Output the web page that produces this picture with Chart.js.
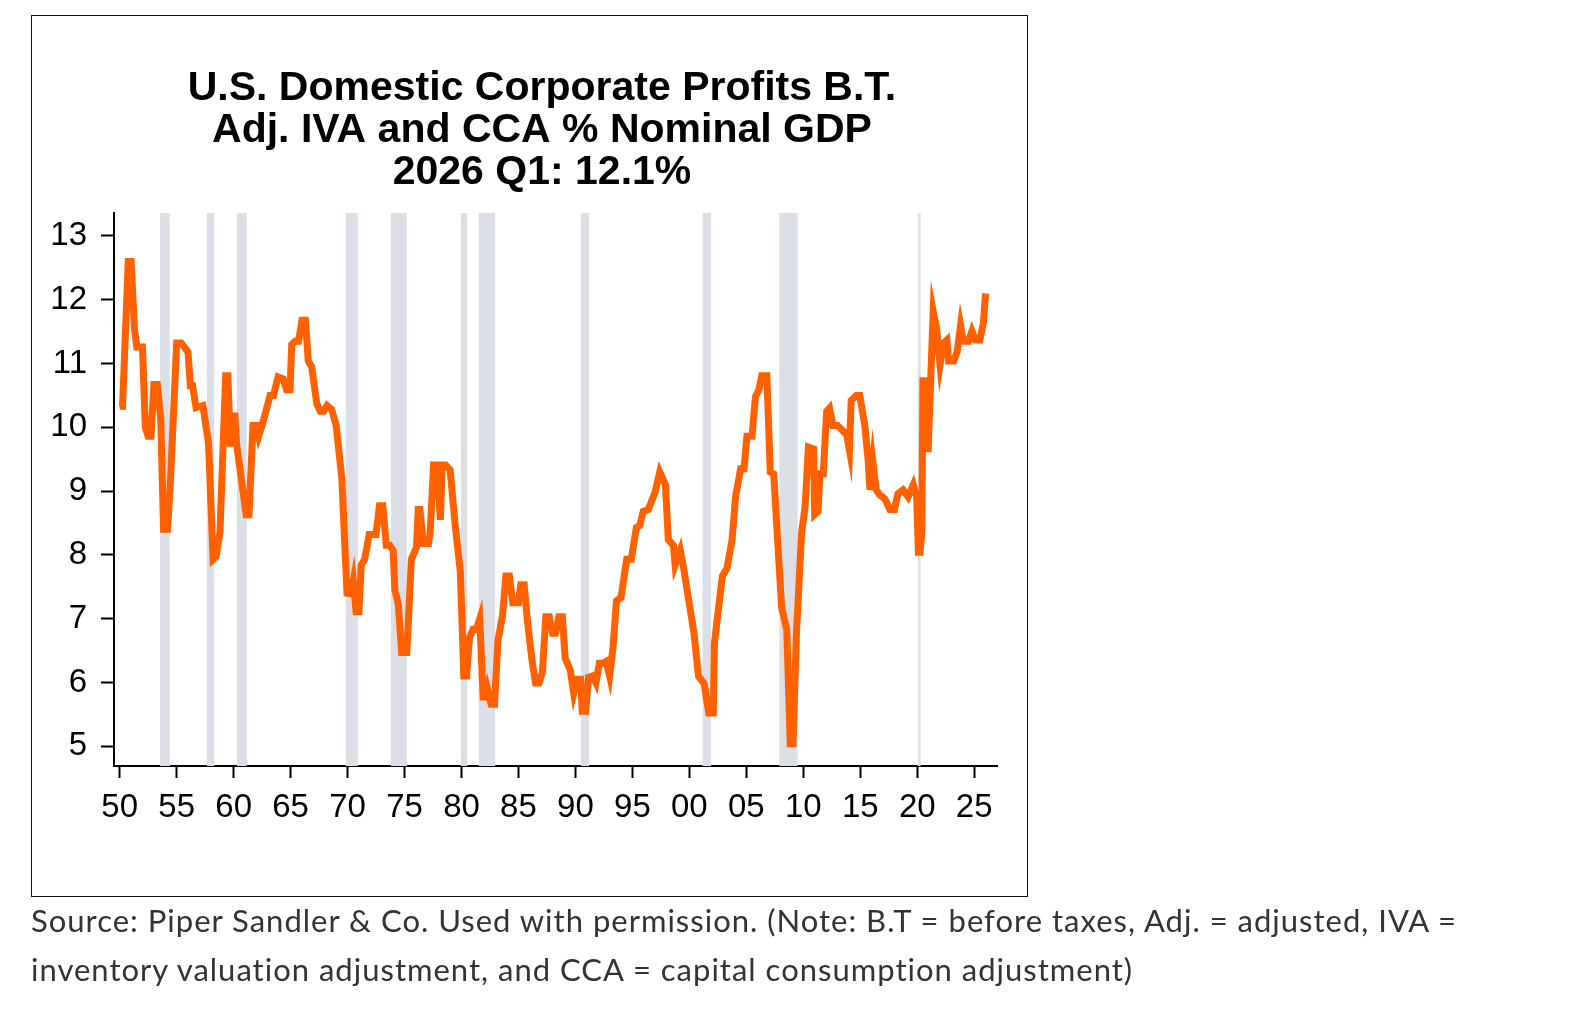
<!DOCTYPE html>
<html>
<head>
<meta charset="utf-8">
<script src="https://cdn.jsdelivr.net/npm/chart.js@4.4.1/dist/chart.umd.min.js"></script>
<style>
    body { margin: 0; background: #fff; width: 1574px; height: 1030px; overflow: hidden; position: relative; }
    #frame { position: absolute; left: 31px; top: 15px; width: 995px; height: 880px; border: 1px solid #111; }
    #wrap { position: absolute; left: 0; top: 0; width: 1574px; height: 1030px; }
    .note { position: absolute; left: 31px; font-family: Lato, "Open Sans", sans-serif; font-size: 31px; letter-spacing: 1px; color: #333; white-space: nowrap; line-height: 49px; }
</style>
</head>
<body>
<div id="frame"></div>
<div id="wrap"><canvas id="profitsChart" width="1574" height="1030"></canvas></div>
<div class="note" style="top:896px">Source: Piper Sandler &amp; Co. Used with permission. (Note: B.T = before taxes, Adj. = adjusted, IVA =</div>
<div class="note" style="top:945px">inventory valuation adjustment, and CCA = capital consumption adjustment)</div>
<script>
// Corporate profits as % of nominal GDP
const years = [
    1950.0, 1950.25, 1950.75, 1951.0, 1951.3, 1951.5, 1952.0, 1952.25, 1952.5, 1952.75,
    1953.0, 1953.3, 1953.6, 1953.85, 1954.2, 1954.45, 1955.0, 1955.4, 1955.65, 1956.0,
    1956.2, 1956.4, 1956.7, 1957.3, 1957.8, 1958.2, 1958.45, 1958.8, 1959.3, 1959.5,
    1959.7, 1959.95, 1960.1, 1960.25, 1961.1, 1961.35, 1961.7, 1962.0, 1962.2, 1962.5,
    1962.75, 1963.2, 1963.5, 1963.9, 1964.35, 1964.65, 1964.95, 1965.1, 1965.4, 1965.7,
    1966.0, 1966.3, 1966.55, 1966.85, 1967.3, 1967.6, 1967.9, 1968.2, 1968.6, 1969.0,
    1969.5, 1969.95, 1970.3, 1970.5, 1970.75, 1971.0, 1971.2, 1971.5, 1971.9, 1972.5,
    1972.8, 1973.1, 1973.4, 1973.7, 1974.0, 1974.15, 1974.45, 1974.75, 1975.2, 1975.6,
    1976.05, 1976.2, 1976.35, 1976.65, 1977.1, 1977.25, 1977.55, 1977.85, 1978.15, 1978.3,
    1978.6, 1979.0, 1979.45, 1979.9, 1980.2, 1980.45, 1980.7, 1981.0, 1981.3, 1981.6,
    1981.9, 1982.2, 1982.3, 1982.6, 1982.9, 1983.2, 1983.6, 1983.9, 1984.2, 1984.5,
    1985.0, 1985.2, 1985.5, 1985.8, 1986.2, 1986.5, 1986.8, 1987.1, 1987.4, 1987.7,
    1988.0, 1988.25, 1988.55, 1988.85, 1989.1, 1989.55, 1989.85, 1990.15, 1990.45, 1990.6,
    1990.9, 1991.15, 1991.5, 1991.8, 1992.1, 1992.4, 1992.7, 1993.0, 1993.3, 1993.6,
    1994.0, 1994.5, 1994.9, 1995.35, 1995.65, 1995.95, 1996.4, 1997.0, 1997.4, 1997.9,
    1998.15, 1998.6, 1998.75, 1999.2, 1999.5, 1999.95, 2000.4, 2000.8, 2001.3, 2001.7,
    2002.1, 2002.2, 2002.45, 2002.9, 2003.3, 2003.75, 2004.05, 2004.5, 2004.8, 2005.05,
    2005.5, 2005.8, 2006.1, 2006.35, 2006.8, 2007.1, 2007.4, 2007.8, 2008.1, 2008.55,
    2008.85, 2009.1, 2009.4, 2009.85, 2010.15, 2010.45, 2010.9, 2011.0, 2011.3, 2011.45,
    2011.75, 2012.05, 2012.3, 2012.6, 2013.0, 2013.5, 2013.8, 2014.05, 2014.2, 2014.65,
    2014.95, 2015.4, 2015.7, 2015.85, 2016.1, 2016.4, 2016.7, 2017.15, 2017.6, 2018.0,
    2018.3, 2018.75, 2019.2, 2019.65, 2019.95, 2020.1, 2020.25, 2020.4, 2020.5, 2020.8,
    2020.95, 2021.4, 2021.7, 2022.0, 2022.3, 2022.6, 2022.75, 2023.2, 2023.5, 2023.8,
    2024.05, 2024.5, 2024.8, 2025.1, 2025.5, 2025.8, 2026.0
];
const profitPct = [
    10.33, 10.33, 12.6, 12.6, 11.54, 11.26, 11.26, 10.0, 9.86, 9.86,
    10.67, 10.67, 10.14, 8.4, 8.4, 9.13, 11.32, 11.32, 11.26, 11.18,
    10.65, 10.65, 10.31, 10.34, 9.75, 7.93, 7.97, 8.35, 10.81, 10.81,
    9.75, 9.75, 10.23, 9.75, 8.63, 8.63, 10.03, 10.03, 9.86, 10.03,
    10.2, 10.5, 10.5, 10.79, 10.76, 10.59, 10.59, 11.3, 11.35, 11.35,
    11.68, 11.68, 11.04, 10.95, 10.37, 10.25, 10.25, 10.34, 10.28, 10.03,
    9.19, 7.4, 7.39, 7.59, 7.11, 7.11, 7.84, 7.93, 8.32, 8.32,
    8.77, 8.77, 8.15, 8.15, 8.07, 7.45, 7.23, 6.47, 6.47, 7.93,
    8.12, 8.71, 8.71, 8.18, 8.18, 8.35, 9.41, 9.41, 8.55, 9.41,
    9.41, 9.33, 8.46, 7.73, 6.1, 6.1, 6.7, 6.83, 6.83, 7.0,
    5.77, 5.77, 5.88, 5.66, 5.66, 6.66, 7.05, 7.67, 7.67, 7.25,
    7.25, 7.53, 7.53, 6.94, 6.33, 5.99, 5.99, 6.16, 7.03, 7.03,
    6.77, 6.77, 7.03, 7.03, 6.38, 6.19, 5.83, 6.05, 6.05, 5.55,
    5.55, 6.08, 6.1, 5.99, 6.3, 6.3, 6.33, 6.1, 6.55, 7.28,
    7.33, 7.93, 7.93, 8.43, 8.46, 8.68, 8.71, 8.99, 9.3, 9.1,
    8.24, 8.15, 7.84, 8.07, 7.79, 7.28, 6.78, 6.1, 5.98, 5.52,
    5.52, 6.61, 7.0, 7.67, 7.79, 8.24, 8.91, 9.35, 9.35, 9.86,
    9.86, 10.48, 10.59, 10.81, 10.81, 9.3, 9.27, 8.07, 7.17, 6.83,
    5.04, 5.04, 6.78, 8.35, 8.74, 9.69, 9.66, 8.63, 8.68, 9.27,
    9.27, 10.25, 10.3, 10.03, 10.03, 9.94, 9.89, 9.64, 10.42, 10.5,
    10.5, 10.03, 9.47, 9.02, 9.47, 9.02, 8.94, 8.88, 8.71, 8.71,
    8.96, 9.02, 8.91, 9.1, 8.91, 8.04, 8.04, 8.35, 10.73, 10.73,
    9.61, 11.82, 11.54, 10.98, 11.32, 11.37, 11.04, 11.04, 11.18, 11.6,
    11.35, 11.35, 11.51, 11.37, 11.37, 11.63, 12.1
];

// NBER recessions (shaded)
const recStart = [1953.55, 1957.65, 1960.3, 1969.85, 1973.8, 1979.95, 1981.5, 1990.5, 2001.15, 2007.9, 2020.05];
const recEnd   = [1954.4, 1958.3, 1961.15, 1970.9, 1975.2, 1980.5, 1982.95, 1991.2, 2001.9, 2009.5, 2020.3];

const xTicks = [1950, 1955, 1960, 1965, 1970, 1975, 1980, 1985, 1990, 1995, 2000, 2005, 2010, 2015, 2020, 2025];
const yTicks = [5, 6, 7, 8, 9, 10, 11, 12, 13];

const titleLines = [
    'U.S. Domestic Corporate Profits B.T.',
    'Adj. IVA and CCA % Nominal GDP',
    '2026 Q1: 12.1%'
];

const recessionShading = {
    id: 'recessionShading',
    beforeDatasetsDraw(chart) {
        const ctx = chart.ctx;
        const area = chart.chartArea;
        const xs = chart.scales.x;
        ctx.save();
        ctx.fillStyle = '#dce0e6';
        recStart.forEach((s, i) => {
            const x1 = xs.getPixelForValue(s);
            const x2 = xs.getPixelForValue(recEnd[i]);
            ctx.fillRect(x1, area.top, Math.max(x2 - x1, 2), area.bottom - area.top);
        });
        ctx.restore();
    }
};

// title sits a bit left of the plot centre, so draw it by hand
const chartTitle = {
    id: 'chartTitle',
    afterDraw(chart) {
        const ctx = chart.ctx;
        ctx.save();
        ctx.font = 'bold 41px "Liberation Sans", Arial, sans-serif';
        ctx.fillStyle = '#000';
        ctx.textAlign = 'center';
        ctx.textBaseline = 'middle';
        titleLines.forEach((t, i) => ctx.fillText(t, 542, 89 + i * 42));
        ctx.restore();
    }
};

const points = years.map((y, i) => ({ x: y, y: profitPct[i] }));

const ctx = document.getElementById('profitsChart').getContext('2d');
new Chart(ctx, {
    type: 'line',
    data: {
        datasets: [{
            label: 'Profits % GDP',
            data: points,
            borderColor: '#ff6000',
            borderWidth: 7,
            pointRadius: 0,
            tension: 0,
            fill: false
        }]
    },
    options: {
        responsive: false,
        animation: false,
        layout: { padding: { left: 0, right: 577, top: 213, bottom: 204 } },
        plugins: {
            legend: { display: false },
            tooltip: { enabled: false },
            title: { display: false }
        },
        scales: {
            x: {
                type: 'linear',
                min: 1949.5,
                max: 2027.0,
                afterBuildTicks: scale => { scale.ticks = xTicks.map(v => ({ value: v })); },
                afterFit: scale => { scale.height = 60; },
                border: { display: true, color: '#000', width: 2 },
                grid: { drawOnChartArea: false, drawTicks: true, tickLength: 12, tickWidth: 2, tickColor: '#000', color: '#000' },
                ticks: {
                    color: '#000',
                    padding: 10,
                    maxRotation: 0,
                    autoSkip: false,
                    font: { family: 'Liberation Sans, Arial, sans-serif', size: 33 },
                    callback: v => String(v % 100).padStart(2, '0')
                }
            },
            y: {
                min: 4.69,
                max: 13.36,
                afterBuildTicks: scale => { scale.ticks = yTicks.map(v => ({ value: v })); },
                afterFit: scale => { scale.width = 114; },
                border: { display: true, color: '#000', width: 2 },
                grid: { drawOnChartArea: false, drawTicks: true, tickLength: 13, tickWidth: 2, tickColor: '#000', color: '#000' },
                ticks: {
                    color: '#000',
                    padding: 14,
                    autoSkip: false,
                    font: { family: 'Liberation Sans, Arial, sans-serif', size: 33 },
                    callback: v => String(v)
                }
            }
        }
    },
    plugins: [recessionShading, chartTitle]
});
</script>
</body>
</html>
